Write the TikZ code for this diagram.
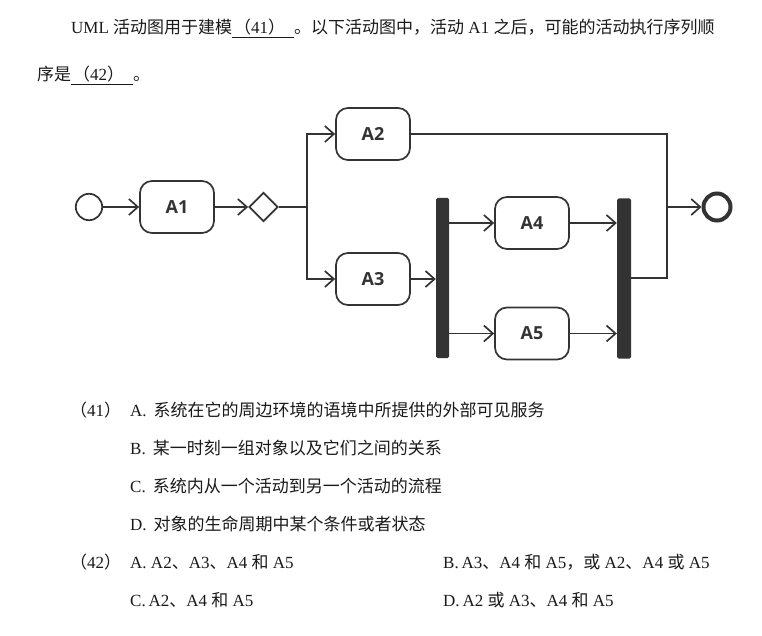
\documentclass[tikz,border=0pt]{standalone}
\usepackage{fontspec}
\setmainfont{Liberation Serif}
\newfontfamily\cjk{Noto Sans CJK SC}
\newfontfamily\labfont{Open Sans}
\usetikzlibrary{shapes.geometric,arrows.meta}
\definecolor{lc}{HTML}{333333}
\definecolor{tc}{HTML}{1A1A1A}
\newcommand\zh[1]{{\cjk #1}}
\newsavebox\ulbox
\newcommand\myul[1]{\sbox\ulbox{#1}\rlap{\rule[-4.5pt]{\wd\ulbox}{1.3pt}}\usebox\ulbox}
\begin{document}
\begin{tikzpicture}[x=1pt,y=-1pt,
  act/.style={draw=lc, line width=1.7pt, rounded corners=12pt, minimum width=74pt, minimum height=52pt, font=\labfont\bfseries\fontsize{18}{20}\selectfont, text=lc, inner sep=0},
  bar/.style={fill=lc, draw=none, minimum width=13pt, minimum height=160pt, rounded corners=1.5pt, inner sep=0},
  flow/.style={draw=lc, line width=1.7pt, -{Straight Barb[length=9pt,width=16pt]}},
  link/.style={draw=lc, line width=1.7pt},
  txt/.style={anchor=base west, inner sep=0, font=\fontsize{17}{20}\selectfont, text=tc}]
\fill[white] (0,0) rectangle (762,636);
\useasboundingbox (0,0) rectangle (762,636);
% question text
\node[txt] (l1) at (71,34) {UML~\zh{活动图用于建模}\myul{\hspace{2pt}\zh{（}41\zh{）}\hspace{9pt}}\zh{。以下活动图中，活动}~A1~\zh{之后，可能的活动执行序列顺}};
\node[txt] (l2) at (37,81) {\zh{序是}\myul{\hspace{2pt}\zh{（}42\zh{）}\hspace{9pt}}\zh{。}};
% diagram
\node[circle, draw=lc, line width=1.7pt, minimum size=26.4pt, inner sep=0] (start) at (89,207) {};
\node[act] (a1) at (177,207) {A1};
\node[diamond, draw=lc, line width=1.7pt, minimum width=29pt, minimum height=29pt, inner sep=0, aspect=1] (dec) at (263.5,207) {};
\coordinate (fk) at (307,207);
\node[act] (a2) at (373,134) {A2};
\node[act] (a3) at (373,279) {A3};
\node[bar] (b1) at (442.5,278) {};
\node[act] (a4) at (532,223) {A4};
\node[act] (a5) at (532,333.5) {A5};
\node[bar, minimum width=14pt] (b2) at (624,278.5) {};
\coordinate (mgt) at (667,134);
\coordinate (mg) at (667,207);
\coordinate (mgb) at (667,278);
\node[circle, draw=lc, line width=4pt, minimum size=27pt, inner sep=0] (fin) at (717,207) {};
\draw[flow] (start) -- (a1);
\draw[flow] (a1) -- (dec);
\draw[link] (dec.east) -- (fk);
\draw[flow] (fk) |- (a2.west);
\draw[flow] (fk) |- (a3.west);
\draw[flow] (a3.east) -- (a3.east -| b1.west);
\draw[flow] (b1.east |- a4.west) -- (a4.west);
\draw[flow] (b1.east |- a5.west) -- (a5.west);
\draw[flow] (a4.east) -- (a4.east -| b2.west);
\draw[flow] (a5.east) -- (a5.east -| b2.west);
\draw[link] (a2.east) -- (mgt) -- (mgb) -- (mgb -| b2.east);
\draw[flow] (mg) -- (fin);
% options
\node[txt] (q41) at (70,416) {\zh{（}41\zh{）}};
\node[txt] (o41a) at (130,416) {A.\hspace{7pt}\zh{系统在它的周边环境的语境中所提供的外部可见服务}};
\node[txt] (o41b) at (130,454) {B.\hspace{7pt}\zh{某一时刻一组对象以及它们之间的关系}};
\node[txt] (o41c) at (130,492) {C.\hspace{7pt}\zh{系统内从一个活动到另一个活动的流程}};
\node[txt] (o41d) at (130,530) {D.\hspace{7pt}\zh{对象的生命周期中某个条件或者状态}};
\node[txt] (q42) at (70,568) {\zh{（}42\zh{）}};
\node[txt] (o42a) at (130,568) {A.~A2\zh{、}A3\zh{、}A4~\zh{和}~A5};
\node[txt] (o42b) at (443,568) {B.\,A3\zh{、}A4~\zh{和}~A5\zh{，或}~A2\zh{、}A4~\zh{或}~A5};
\node[txt] (o42c) at (130,606) {C.\,A2\zh{、}A4~\zh{和}~A5};
\node[txt] (o42d) at (443,606) {D.\,A2~\zh{或}~A3\zh{、}A4~\zh{和}~A5};
\end{tikzpicture}
\end{document}
